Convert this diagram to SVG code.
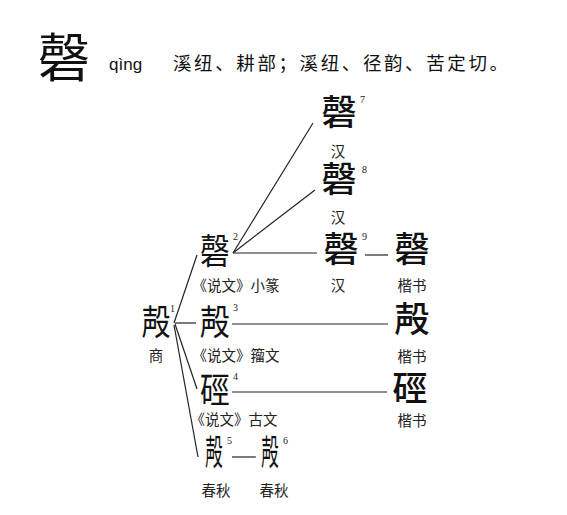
<svg xmlns="http://www.w3.org/2000/svg" width="567" height="515" viewBox="0 0 567 515">
<style>
.big{font-family:"Noto Sans CJK SC",sans-serif;font-size:35px;fill:#111;text-anchor:middle}
.bd{font-weight:500}
.lab{font-family:"Noto Sans CJK SC",sans-serif;font-size:14.5px;fill:#222;text-anchor:middle}
.sup{font-family:"Liberation Serif",serif;font-size:10px;fill:#222}
.ln{stroke:#222;stroke-width:1.2;fill:none}
</style>
<rect width="567" height="515" fill="#fff"/>
<g id="title">
<text x="64" y="77" font-family="Noto Sans CJK SC, sans-serif" font-size="52" text-anchor="middle" fill="#111">磬</text>
<text x="109" y="70" font-family="Liberation Sans, sans-serif" font-size="17" fill="#111">qìng</text>
<text x="173" y="70" font-family="Noto Sans CJK SC, sans-serif" font-size="18.5" letter-spacing="2.6" fill="#111">溪纽、耕部；溪纽、径韵、苦定切。</text>
</g>
<g id="connectors">
<line class="ln" x1="174" y1="323" x2="197" y2="255"/>
<line class="ln" x1="175" y1="323" x2="196" y2="323"/>
<line class="ln" x1="175" y1="324" x2="197" y2="389"/>
<line class="ln" x1="174" y1="325" x2="198" y2="457"/>
<line class="ln" x1="233" y1="253" x2="313" y2="123"/>
<line class="ln" x1="233" y1="253" x2="315" y2="190"/>
<line class="ln" x1="233" y1="253" x2="317" y2="253"/>
<line class="ln" x1="365" y1="255" x2="388" y2="255"/>
<line class="ln" x1="232" y1="324" x2="388" y2="324"/>
<line class="ln" x1="232" y1="392" x2="387" y2="392"/>
<line class="ln" x1="232" y1="457" x2="256" y2="457"/>
</g>
<g id="n1"><text class="big" x="156" y="335" font-size="32" transform="translate(156 0) scale(0.82 1) translate(-156 0)">殸</text><text class="sup" x="170" y="312">1</text><text class="lab" x="156" y="361">商</text></g>
<g id="n2"><text class="big" x="215" y="264" font-size="33" transform="translate(215 0) scale(0.85 1) translate(-215 0)">磬</text><text class="sup" x="233" y="240">2</text><text class="lab" x="236" y="291">《说文》小篆</text></g>
<g id="n3"><text class="big" x="215" y="335" font-size="33" transform="translate(215 0) scale(0.85 1) translate(-215 0)">殸</text><text class="sup" x="233" y="311">3</text><text class="lab" x="236" y="361">《说文》籀文</text></g>
<g id="n4"><text class="big" x="215" y="403" font-size="33" transform="translate(215 0) scale(0.85 1) translate(-215 0)">硜</text><text class="sup" x="233" y="380">4</text><text class="lab" x="234" y="425">《说文》古文</text></g>
<g id="n5"><text class="big" x="214" y="465" font-size="30" transform="translate(214 0) scale(0.5 1) translate(-214 0)">殸</text><text class="sup" x="227" y="444">5</text><text class="lab" x="216" y="496">春秋</text></g>
<g id="n6"><text class="big" x="270" y="465" font-size="30" transform="translate(270 0) scale(0.5 1) translate(-270 0)">殸</text><text class="sup" x="283" y="444">6</text><text class="lab" x="274" y="496">春秋</text></g>
<g id="n7"><text class="big bd" x="339" y="125">磬</text><text class="sup" x="360" y="103">7</text><text class="lab" x="338" y="157">汉</text></g>
<g id="n8"><text class="big bd" x="339" y="192">磬</text><text class="sup" x="362" y="173">8</text><text class="lab" x="338" y="223">汉</text></g>
<g id="n9"><text class="big bd" x="341" y="262">磬</text><text class="sup" x="362" y="240">9</text><text class="lab" x="338" y="291">汉</text></g>
<g id="k1"><text class="big bd" x="412" y="262">磬</text><text class="lab" x="412" y="291">楷书</text></g>
<g id="k2"><text class="big bd" x="412" y="332">殸</text><text class="lab" x="412" y="362">楷书</text></g>
<g id="k3"><text class="big bd" x="410" y="401">硜</text><text class="lab" x="412" y="426">楷书</text></g>
</svg>
